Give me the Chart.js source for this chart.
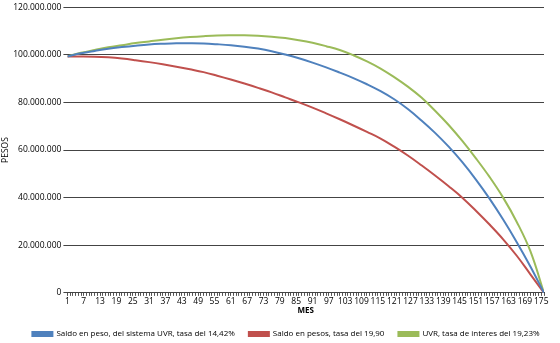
<!DOCTYPE html>
<html>
<head>
<meta charset="utf-8">
<script src="https://cdn.jsdelivr.net/npm/chart.js@4.4.0/dist/chart.umd.min.js"></script>
<style>
  body { margin: 0; background: #fff; }
  #wrap { width: 560px; height: 343px; }
</style>
</head>
<body>
<div id="wrap"><canvas id="myChart" width="560" height="343"></canvas></div>
<script>
// meses (cada 5 meses)
const meses = [1, 6, 11, 16, 21, 26, 31, 36, 41, 46, 51, 56, 61, 66, 71, 76, 81, 86,
  91, 96, 101, 106, 111, 116, 121, 126, 131, 136, 141, 146, 151, 156, 161, 166, 171, 176];

// saldos en millones de pesos
const saldoUvr = [99.3, 100.6, 101.6, 102.5, 103.2, 103.8, 104.3, 104.6, 104.8, 104.8, 104.7, 104.4,
  104.0, 103.4, 102.6, 101.5, 100.1, 98.5, 96.7, 94.7, 92.5, 90.2, 87.6, 84.7,
  81.3, 77.2, 72.4, 67.2, 61.4, 54.9, 47.6, 39.6, 30.8, 21.3, 11.1, 0];

const saldoPesos = [99.3, 99.3, 99.2, 98.9, 98.4, 97.7, 96.9, 96.0, 95.0, 93.9, 92.7, 91.2,
  89.6, 87.9, 86.1, 84.2, 82.1, 80.0, 77.8, 75.4, 72.9, 70.3, 67.6, 64.8,
  61.4, 57.7, 53.6, 49.3, 44.8, 40.0, 34.5, 28.7, 22.5, 15.6, 7.8, 0];

const uvrInteres = [99.3, 100.8, 102.0, 103.1, 104.0, 104.9, 105.6, 106.3, 106.9, 107.4, 107.8, 108.1,
  108.2, 108.2, 108.0, 107.6, 107.0, 106.1, 105.0, 103.6, 102.0, 99.8, 97.2, 94.2,
  90.6, 86.6, 82.0, 76.5, 70.5, 63.8, 56.5, 48.7, 40.0, 29.8, 17.5, 0];

const xLabels = [1, 7, 13, 19, 25, 31, 37, 43, 49, 55, 61, 67, 73, 79, 85, 91, 97, 103,
  109, 115, 121, 127, 133, 139, 145, 151, 157, 163, 169, 175];
const yTicks = [0, 20000000, 40000000, 60000000, 80000000, 100000000, 120000000];

const nombres = ['Saldo en peso, del sistema UVR, tasa del 14,42%',
  'Saldo en pesos, tasa del 19,90',
  'UVR, tasa de interes del 19,23%'];

function puntos(serie) {
  return meses.map((m, i) => ({ x: m, y: serie[i] * 1000000 }));
}

function formato(v) {
  return String(v).replace(/\B(?=(\d{3})+(?!\d))/g, '.');
}

const fuente = { family: 'Open Sans', size: 8.5 };

// corre la leyenda un poco a la derecha como en el original
const moverLeyenda = {
  id: 'moverLeyenda',
  afterLayout(chart) {
    chart.legend.left += 14;
    chart.legend.right += 14;
  }
};

new Chart(document.getElementById('myChart'), {
  type: 'line',
  data: {
    datasets: [
      { label: nombres[0], data: puntos(saldoUvr), borderColor: '#4F81BD', backgroundColor: '#4F81BD' },
      { label: nombres[1], data: puntos(saldoPesos), borderColor: '#C0504D', backgroundColor: '#C0504D' },
      { label: nombres[2], data: puntos(uvrInteres), borderColor: '#9BBB59', backgroundColor: '#9BBB59' }
    ]
  },
  plugins: [moverLeyenda],
  options: {
    responsive: false,
    animation: false,
    layout: { padding: { top: 4, right: 16, left: 0, bottom: -5 } },
    elements: {
      point: { radius: 0 },
      line: { borderWidth: 2, tension: 0.4 }
    },
    plugins: {
      legend: {
        position: 'bottom',
        labels: { boxWidth: 20, boxHeight: 4, font: { family: 'Open Sans', size: 8 }, color: '#000', padding: 14 }
      },
      tooltip: { enabled: false }
    },
    scales: {
      x: {
        type: 'linear',
        min: 1,
        max: 176,
        grid: { drawOnChartArea: false, drawTicks: true, tickLength: 3, color: '#555' },
        border: { color: '#444' },
        ticks: {
          stepSize: 1,
          autoSkip: false,
          maxRotation: 0,
          padding: 1,
          font: { family: 'Open Sans', size: 8.5, lineHeight: 1 },
          color: '#000',
          callback: v => xLabels.includes(v) ? String(v) : ''
        },
        title: { display: true, text: 'MES', font: { family: 'Open Sans', size: 8, weight: 'bold' }, color: '#000', padding: { top: 0, bottom: 0 } }
      },
      y: {
        min: 0,
        max: 120000000,
        afterBuildTicks: axis => { axis.ticks = yTicks.map(v => ({ value: v })); },
        grid: { color: '#444', tickLength: 4 },
        border: { display: false },
        ticks: { font: fuente, color: '#000', padding: 2, callback: v => formato(v) },
        title: { display: true, text: 'PESOS', font: { family: 'Open Sans', size: 8.5 }, color: '#000', padding: { top: 0, bottom: 1 } }
      }
    }
  }
});
</script>
</body>
</html>
